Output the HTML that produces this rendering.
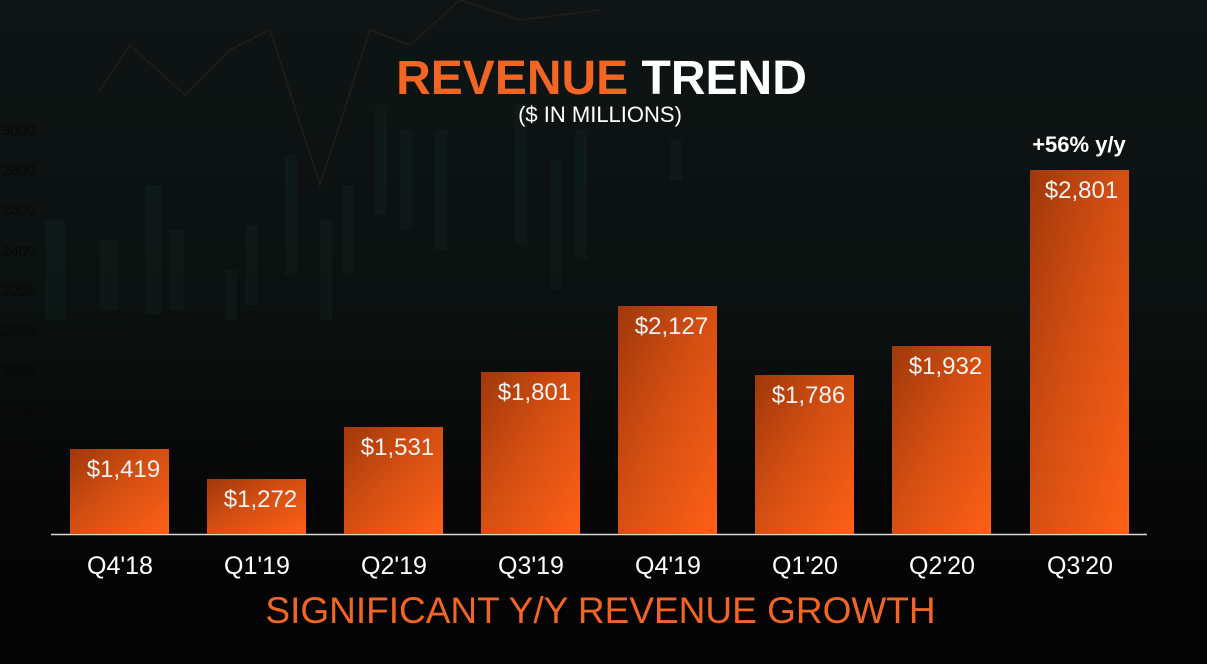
<!DOCTYPE html>
<html><head><style>
html,body{margin:0;padding:0}
body{width:1207px;height:664px;overflow:hidden;position:relative;font-family:"Liberation Sans",sans-serif;
background:linear-gradient(180deg,#0e1514 0%,#0b1110 45%,#060606 75%,#040404 100%);}
.t{position:absolute;white-space:nowrap}
.bar{position:absolute;width:99px;bottom:130px;background:linear-gradient(to bottom right,#a0380a 0%,#d24e12 45%,#ff6016 100%)}
.v{position:absolute;width:99px;text-align:center;color:#f2f2f2;font-size:24px}
.ax{position:absolute;left:2px;color:#080808;font-size:15px}
.c{position:absolute;width:140px;text-align:center;color:#fff;font-size:25px;top:552px}
</style></head><body>
<svg width="1207" height="664" style="position:absolute;left:0;top:0">
<g fill="#16302a" opacity="0.25">
<rect x="45" y="220" width="20" height="100"/><rect x="100" y="240" width="18" height="70"/>
<rect x="145" y="185" width="16" height="130"/><rect x="170" y="230" width="14" height="80"/>
<rect x="225" y="270" width="12" height="50"/><rect x="245" y="225" width="12" height="80"/>
<rect x="285" y="155" width="12" height="120"/><rect x="320" y="220" width="12" height="100"/>
<rect x="342" y="185" width="12" height="90"/><rect x="375" y="105" width="12" height="110"/>
<rect x="400" y="130" width="12" height="100"/><rect x="435" y="130" width="12" height="120"/>
<rect x="515" y="105" width="12" height="140"/><rect x="550" y="160" width="12" height="130"/>
<rect x="575" y="130" width="12" height="130"/><rect x="670" y="140" width="12" height="40"/>
</g>
<polyline points="100,90 130,45 185,95 210,70 230,50 270,30 320,185 370,30 410,45 460,0 520,20 600,10" fill="none" stroke="#252525" stroke-width="2" opacity="0.5"/>
<line x1="51" y1="534.5" x2="1147" y2="534.5" stroke="#d9d9d9" stroke-width="1.5"/>
</svg>
<div class="ax" style="top:122px">3000</div><div class="ax" style="top:162px">2800</div>
<div class="ax" style="top:202px">2600</div><div class="ax" style="top:243px">2400</div>
<div class="ax" style="top:283px">2200</div><div class="ax" style="top:323px">2000</div>
<div class="ax" style="top:363px">1800</div><div class="ax" style="top:403px">1600</div>
<div class="ax" style="top:444px">1400</div><div class="ax" style="top:484px">1200</div>
<div class="ax" style="top:524px">1000</div>

<div class="t" style="left:0;width:1203px;text-align:center;top:51px;font-size:48px;font-weight:bold;"><span style="color:#f26522">REVENUE</span> <span style="color:#fff">TREND</span></div>
<div class="t" style="left:0;width:1200px;text-align:center;top:102px;font-size:22px;color:#fff">($ IN MILLIONS)</div>

<div class="bar" style="left:70px;top:449px"></div><div class="v" style="left:74px;top:456px">$1,419</div>
<div class="bar" style="left:207px;top:479px"></div><div class="v" style="left:211px;top:486px">$1,272</div>
<div class="bar" style="left:344px;top:427px"></div><div class="v" style="left:348px;top:434px">$1,531</div>
<div class="bar" style="left:481px;top:372px"></div><div class="v" style="left:485px;top:379px">$1,801</div>
<div class="bar" style="left:618px;top:306px"></div><div class="v" style="left:622px;top:313px">$2,127</div>
<div class="bar" style="left:755px;top:375px"></div><div class="v" style="left:759px;top:382px">$1,786</div>
<div class="bar" style="left:892px;top:346px"></div><div class="v" style="left:896px;top:353px">$1,932</div>
<div class="bar" style="left:1030px;top:170px"></div><div class="v" style="left:1032px;top:177px">$2,801</div>
<div class="t" style="left:999px;width:160px;text-align:center;top:132px;font-size:22px;font-weight:bold;color:#fff">+56% y/y</div>

<div class="c" style="left:50px">Q4'18</div><div class="c" style="left:187px">Q1'19</div>
<div class="c" style="left:324px">Q2'19</div><div class="c" style="left:461px">Q3'19</div>
<div class="c" style="left:598px">Q4'19</div><div class="c" style="left:735px">Q1'20</div>
<div class="c" style="left:872px">Q2'20</div><div class="c" style="left:1010px">Q3'20</div>

<div class="t" style="left:0;width:1201px;text-align:center;top:590px;font-size:37px;color:#f26522">SIGNIFICANT Y/Y REVENUE GROWTH</div>
</body></html>
